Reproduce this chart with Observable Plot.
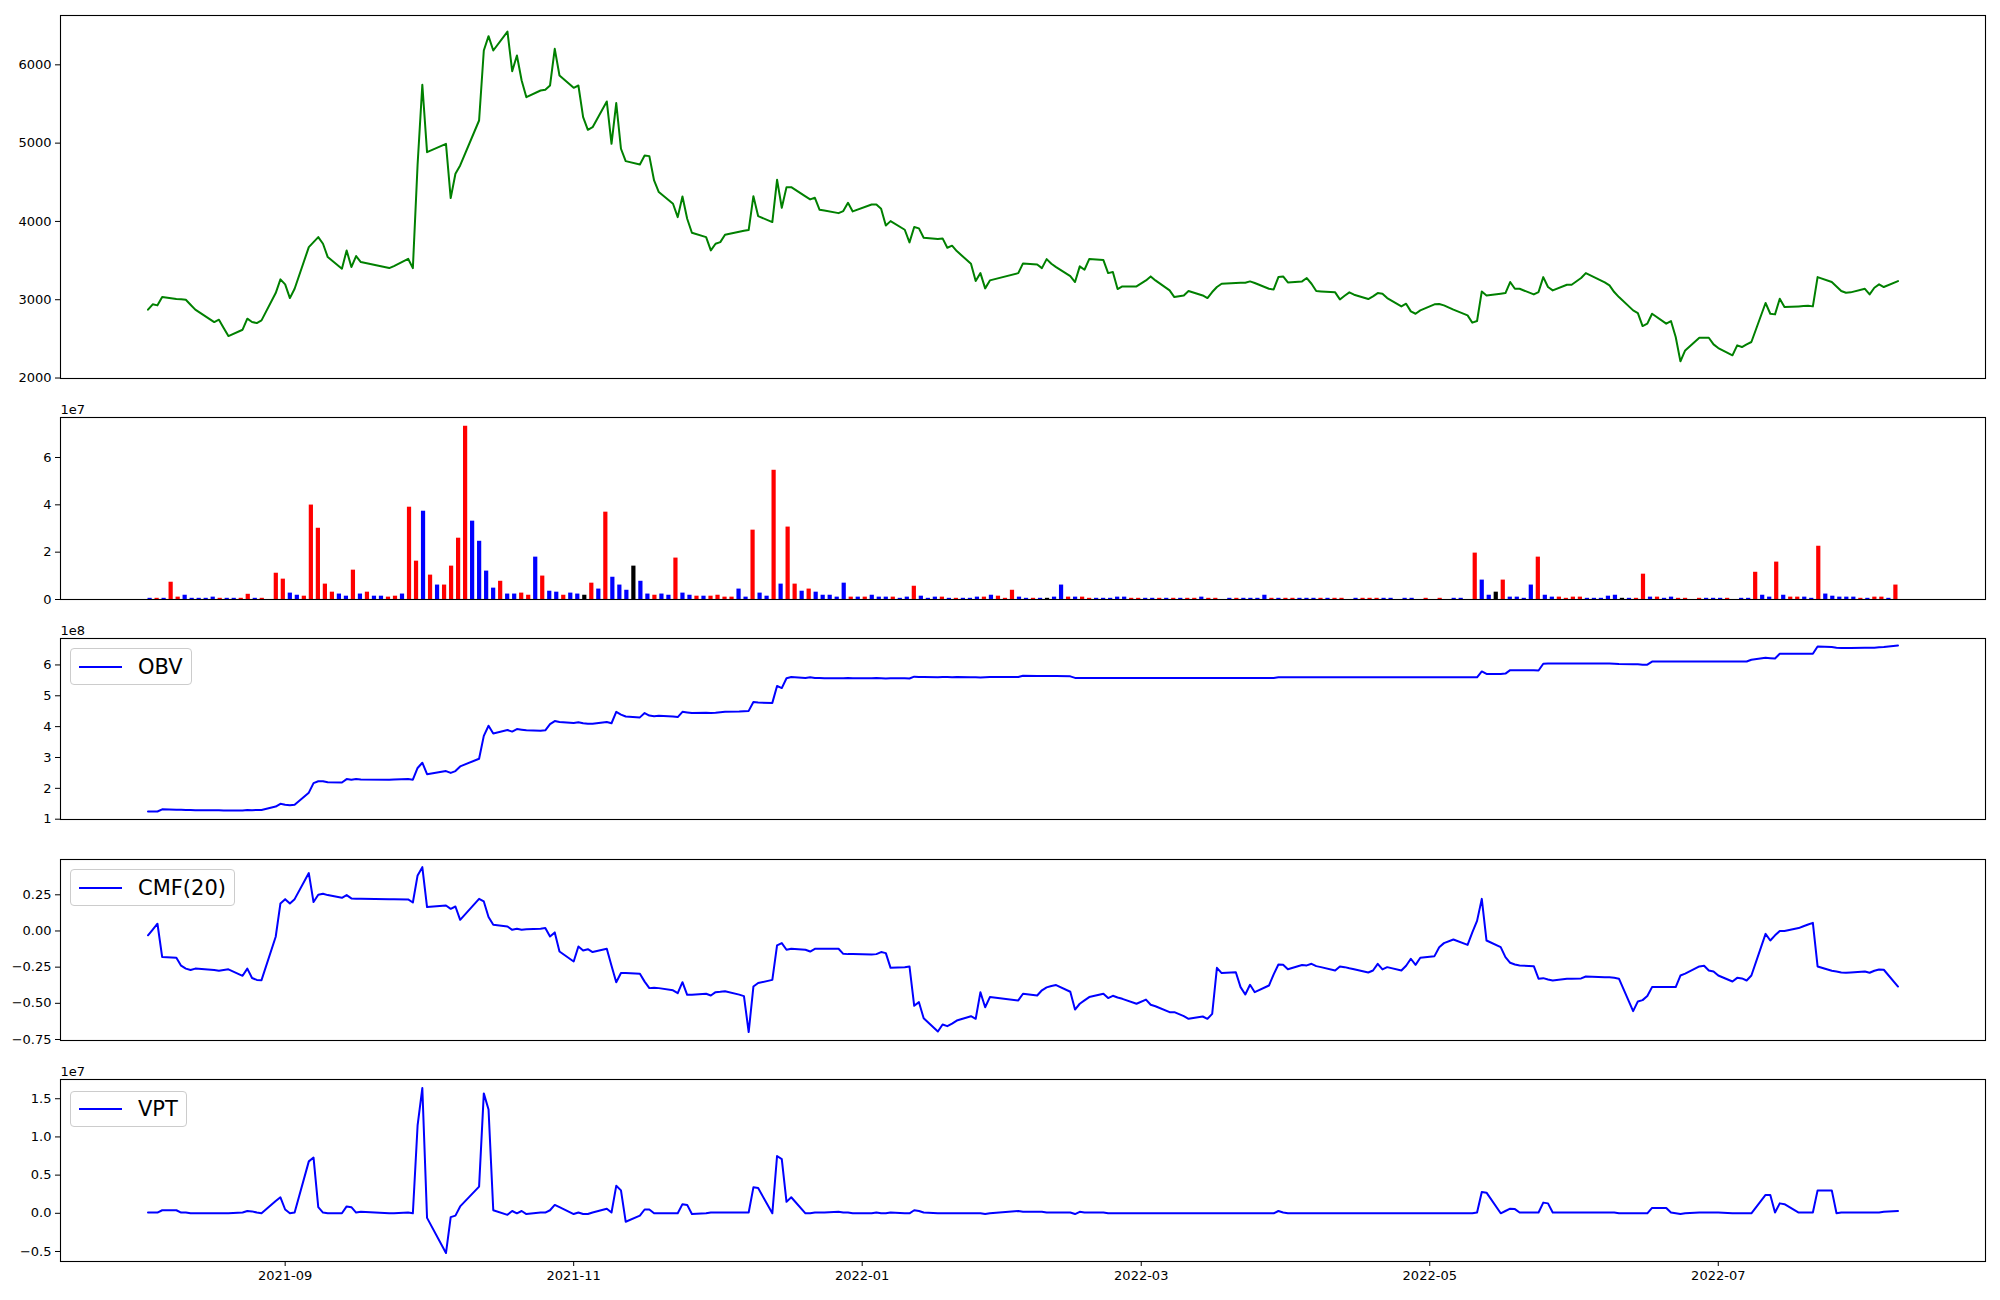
<!DOCTYPE html>
<html><head><meta charset="utf-8">
<script src="https://cdn.jsdelivr.net/npm/d3@7"></script>
<script src="https://cdn.jsdelivr.net/npm/@observablehq/plot@0.6"></script>
<style>
body{margin:0;background:#fff;}
#root{position:relative;width:2000px;height:1300px;background:#fff;font-family:"DejaVu Sans",sans-serif;overflow:hidden}
.legend{position:absolute;display:flex;align-items:center;box-sizing:border-box;border:1px solid #cccccc;border-radius:4px;background:rgba(255,255,255,0.8);padding:0 8px 0 8px;font-size:21px;color:#000;font-family:"DejaVu Sans",sans-serif;white-space:nowrap}
.legend .swatch{width:43px;height:2px;background:#0000ff;margin-right:16px}
</style></head>
<body><div id="root"></div>
<script>
// Trading days (Korean market calendar)
const tradingMonths = [
  ["2021-08",[3,4,5,6,9,10,11,12,13,17,18,19,20,23,24,25,26,27,30,31]],
  ["2021-09",[1,2,3,6,7,8,9,10,13,14,15,16,17,23,24,27,28,29,30]],
  ["2021-10",[1,5,6,7,8,12,13,14,15,18,19,20,21,22,25,26,27,28,29]],
  ["2021-11",[1,2,3,4,5,8,9,10,11,12,15,16,17,18,19,22,23,24,25,26,29,30]],
  ["2021-12",[1,2,3,6,7,8,9,10,13,14,15,16,17,20,21,22,23,24,27,28,29,30]],
  ["2022-01",[3,4,5,6,7,10,11,12,13,14,17,18,19,20,21,24,25,26,27,28]],
  ["2022-02",[3,4,7,8,9,10,11,14,15,16,17,18,21,22,23,24,25,28]],
  ["2022-03",[2,3,4,7,8,10,11,14,15,16,17,18,21,22,23,24,25,28,29,30,31]],
  ["2022-04",[1,4,5,6,7,8,11,12,13,14,15,18,19,20,21,22,25,26,27,28,29]],
  ["2022-05",[2,3,4,6,9,10,11,12,13,16,17,18,19,20,23,24,25,26,27,30,31]],
  ["2022-06",[2,3,7,8,9,10,13,14,15,16,17,20,21,22,23,24,27,28,29,30]],
  ["2022-07",[1,4,5,6,7,8,11,12,13,14,15,18,19,20,21,22,25,26,27,28,29]],
  ["2022-08",[1,2,3,4,5,8]]
];

// Close price
const price = [
  2873,2941,2928,3034,3010,3005,3000,2936,2873,2715,2745,2639,2536,2617,2758,2715,2702,2736,3085,3260,
  3196,3021,3140,3672,3736,3800,3715,3545,3396,3630,3417,3558,3481,3404,3430,3523,3404,4728,5745,
  4885,4991,4298,4609,4715,5289,6183,6366,6183,6425,5919,6119,5800,5587,5672,5681,5736,6204,5864,
  5706,5736,5332,5170,5204,5532,4991,5511,4928,4770,4728,4843,4834,4523,4375,4226,4055,4319,4034,3855,3800,3630,
  3715,3736,3830,3868,3881,3890,4323,4068,3992,4532,4175,4438,4438,4319,4281,4302,4149,4140,4106,4132,4238,4128,
  4217,4217,4162,3949,4004,3894,3732,3928,3911,3792,3775,3783,3664,3690,3621,3460,3238,3340,3145,3247,
  3340,3464,3451,3404,3519,3460,3417,3302,3226,3426,3383,3519,3506,3340,3353,3136,3170,3170,
  3247,3298,3247,3119,3034,3055,3111,3055,3021,3098,3162,3204,3213,3217,3217,3234,3213,3140,3132,3289,3298,
  3221,3234,3277,3204,3111,3106,3094,3004,3051,3094,3064,3009,3043,3085,3077,3021,2915,2949,2851,2821,2864,
  2941,2945,2928,2873,2800,2707,2728,3106,3055,3077,3085,3226,3140,3140,3068,3098,3289,3162,3119,3191,3191,
  3277,3340,3221,3183,3098,3034,2864,2830,2664,2694,2821,2694,2728,2524,2213,2353,2515,2515,2515,2430,
  2383,2290,2417,2396,2430,2460,2958,2821,2813,3013,2907,2915,2919,2924,2915,3289,3226,3170,3111,3089,3094,
  3140,3068,3153,3196,3162,3238
];

// Volume in millions of shares
const volumeM = [
  0.5,0.5,0.5,7.3,1.0,1.8,0.5,0.5,0.5,1.0,0.5,0.5,0.5,0.5,2.2,0.5,0.5,0,11.1,8.6,
  2.7,1.8,1.4,39.9,30.1,6.5,3.1,2.3,1.4,12.4,2.3,3.1,1.4,1.4,1.0,1.4,2.3,39.0,16.2,
  37.3,10.3,6.1,6.1,14.1,25.9,73.2,33.1,24.6,12.0,4.8,7.7,2.3,2.3,2.7,1.8,17.9,9.9,3.5,
  3.1,1.8,2.7,2.3,1.8,6.9,4.4,36.9,9.4,6.1,3.9,14.1,7.7,2.3,1.8,2.3,1.8,17.5,2.7,1.8,1.4,1.4,
  1.4,1.8,1.0,1.0,4.4,1.0,29.3,2.7,1.4,54.6,6.5,30.6,6.5,3.5,4.4,3.1,1.8,1.8,1.0,6.9,1.0,1.0,
  1.0,1.8,1.0,1.0,1.0,0.5,1.0,5.6,1.4,0.5,1.0,1.0,0.5,0.5,0.5,0.5,1.0,1.0,1.8,1.4,
  0.5,3.9,1.0,0.5,0.5,0.5,0.5,1.0,6.1,1.0,1.0,1.0,0.5,0.5,0.5,0.5,1.0,1.0,
  0.5,0.5,0.5,0.5,0.5,0.5,0.5,0.5,0.5,0.5,1.0,0.5,0.5,0,0.5,0.5,0.5,0.5,0.5,1.8,0.5,
  0.5,0.5,0.5,0.5,0.5,0.5,0.5,0.5,0.5,0.5,0,0.5,0.5,0.5,0.5,0.5,0.5,0,0.5,0.5,0,
  0.5,0,0.5,0,0.5,0.5,0,19.6,8.2,1.8,3.1,8.2,1.0,1.0,0.5,6.1,17.9,1.8,1.0,1.0,0.5,
  1.0,1.0,0.5,0.5,0.5,1.4,1.8,0.5,0.5,0.5,10.7,1.0,1.0,0.5,1.0,0.5,0.5,0,0.5,0.5,
  0.5,0.5,0.5,0,0.5,0.5,11.5,1.8,1.0,15.8,1.8,1.0,1.0,1.0,0.5,22.5,2.3,1.4,1.0,1.0,1.0,
  0.5,0.5,1.0,1.0,0.5,6.1
];

// Bar colour: r = up, b = down, k = unchanged
const volColor = [
  "b","r","b","r","r","b","b","b","b","b","r","b","b","r","r","b","r","k","r","r",
  "b","b","r","r","r","r","r","b","b","r","b","r","b","b","r","r","b","r","r",
  "b","r","b","r","r","r","r","b","b","b","b","r","b","b","r","r","b","r","b",
  "b","r","b","b","k","r","b","r","b","b","b","k","b","b","r","b","b","r","b","b","r","b",
  "r","r","r","r","b","b","r","b","b","r","b","r","r","b","r","b","b","b","b","b","r","b",
  "r","b","b","b","r","b","b","r","b","b","b","r","b","r","b","b","b","r","b","r",
  "r","r","b","b","r","b","k","b","b","r","b","r","r","b","b","b","b","b",
  "r","r","b","b","r","b","r","b","r","r","b","r","r","k","b","r","b","b","b","b","r",
  "b","r","r","b","b","b","r","b","r","r","k","b","r","r","r","b","b","k","b","b","k",
  "r","k","r","k","b","b","k","r","b","b","k","r","b","b","b","b","r","b","b","r","r",
  "r","r","b","b","b","b","b","k","b","r","r","b","r","b","b","r","r","k","r","b",
  "b","b","r","k","b","b","r","b","b","r","b","r","r","b","b","r","b","b","b","b","b",
  "r","b","r","r","b","r"
];

// On-balance volume, in units of 1e8
const obv = [
  1.25,1.25,1.25,1.32,1.31,1.31,1.30,1.30,1.29,1.29,1.29,1.28,1.28,1.28,1.30,1.29,1.30,1.30,1.41,1.50,
  1.47,1.45,1.47,1.86,2.17,2.23,2.23,2.20,2.19,2.30,2.28,2.30,2.29,2.28,2.29,2.30,2.28,2.66,2.83,
  2.46,2.56,2.50,2.56,2.71,2.96,3.70,4.03,3.78,3.89,3.84,3.92,3.90,3.88,3.87,3.88,4.08,4.18,4.15,
  4.12,4.14,4.11,4.09,4.09,4.15,4.11,4.48,4.39,4.33,4.30,4.44,4.36,4.34,4.35,4.33,4.31,4.48,4.46,4.44,4.45,4.44,
  4.45,4.47,4.48,4.49,4.50,4.51,4.80,4.78,4.77,5.32,5.25,5.57,5.61,5.58,5.60,5.58,5.58,5.57,5.57,5.57,5.58,5.57,
  5.57,5.58,5.57,5.56,5.57,5.57,5.56,5.62,5.61,5.61,5.60,5.61,5.61,5.60,5.61,5.60,5.60,5.59,5.60,5.61,
  5.61,5.65,5.64,5.64,5.64,5.64,5.64,5.63,5.58,5.58,5.58,5.58,5.58,5.58,5.58,5.58,5.58,5.58,
  5.58,5.58,5.58,5.58,5.58,5.58,5.58,5.58,5.58,5.58,5.58,5.58,5.58,5.58,5.58,5.58,5.58,5.58,5.58,5.60,5.60,
  5.60,5.60,5.60,5.60,5.60,5.60,5.60,5.60,5.60,5.60,5.60,5.60,5.60,5.60,5.60,5.60,5.60,5.60,5.60,5.60,5.60,
  5.60,5.60,5.60,5.60,5.60,5.60,5.60,5.79,5.71,5.71,5.72,5.83,5.83,5.83,5.83,5.82,6.04,6.05,6.05,6.05,6.05,
  6.05,6.05,6.05,6.05,6.04,6.03,6.02,6.02,6.01,6.01,6.11,6.11,6.11,6.11,6.11,6.11,6.11,6.11,6.11,6.11,
  6.11,6.11,6.11,6.11,6.11,6.17,6.23,6.22,6.21,6.36,6.36,6.36,6.36,6.36,6.36,6.60,6.58,6.56,6.55,6.55,6.55,
  6.56,6.56,6.56,6.57,6.58,6.63
];

// Chaikin money flow (20)
const cmf = [
  -0.03,0.01,0.05,-0.18,-0.185,-0.24,-0.26,-0.27,-0.26,-0.27,-0.275,-0.27,-0.265,-0.31,-0.26,-0.325,-0.338,-0.34,-0.04,0.19,
  0.22,0.19,0.22,0.40,0.20,0.25,0.257,0.248,0.229,0.248,0.225,0.223,0.222,0.22,0.219,0.218,0.197,0.384,0.441,
  0.165,0.176,0.153,0.169,0.077,0.222,0.204,0.096,0.043,0.031,0.008,0.015,0.008,0.012,0.016,0.02,-0.038,-0.01,-0.142,
  -0.211,-0.107,-0.135,-0.126,-0.146,-0.123,-0.24,-0.354,-0.291,-0.29,-0.296,-0.35,-0.395,-0.393,-0.395,-0.41,-0.43,-0.354,-0.441,-0.44,-0.434,-0.446,
  -0.423,-0.42,-0.416,-0.44,-0.45,-0.699,-0.384,-0.36,-0.338,-0.10,-0.084,-0.13,-0.123,-0.13,-0.142,-0.123,-0.123,-0.123,-0.123,-0.158,-0.16,-0.16,
  -0.162,-0.16,-0.146,-0.153,-0.255,-0.25,-0.245,-0.517,-0.492,-0.603,-0.695,-0.646,-0.658,-0.64,-0.619,-0.589,-0.607,-0.423,-0.527,-0.457,
  -0.48,-0.434,-0.446,-0.41,-0.39,-0.38,-0.374,-0.42,-0.543,-0.503,-0.48,-0.457,-0.434,-0.464,-0.448,-0.46,-0.469,-0.503,
  -0.474,-0.51,-0.52,-0.561,-0.561,-0.589,-0.607,-0.591,-0.607,-0.573,-0.255,-0.291,-0.285,-0.388,-0.439,-0.372,-0.423,-0.377,-0.30,-0.232,-0.234,
  -0.264,-0.235,-0.238,-0.227,-0.243,-0.25,-0.273,-0.245,-0.25,-0.258,-0.264,-0.287,-0.273,-0.227,-0.266,-0.25,-0.273,-0.24,-0.192,-0.234,-0.185,
  -0.174,-0.112,-0.084,-0.059,-0.096,-0.01,0.07,0.222,-0.066,-0.112,-0.181,-0.22,-0.232,-0.238,-0.243,-0.33,-0.326,-0.335,-0.342,-0.33,-0.33,
  -0.328,-0.315,-0.319,-0.32,-0.323,-0.33,-0.554,-0.487,-0.478,-0.45,-0.388,-0.388,-0.388,-0.388,-0.308,-0.295,-0.245,-0.24,-0.273,-0.28,
  -0.308,-0.349,-0.324,-0.328,-0.342,-0.308,-0.02,-0.066,-0.03,-0.001,0.0,0.02,0.033,0.045,0.056,-0.245,-0.275,-0.28,-0.287,-0.289,-0.287,
  -0.28,-0.289,-0.275,-0.266,-0.268,-0.384
];

// Volume price trend, in units of 1e7
const vpt = [
  0.01,0.01,0.01,0.04,0.04,0.01,0.01,0.0,0.0,0.0,0.0,0.0,0.0,0.01,0.03,0.025,0.01,0.0,0.16,0.21,
  0.05,0.0,0.01,0.68,0.73,0.08,0.01,0.0,0.0,0.09,0.08,0.01,0.02,0.0,0.0,0.01,0.0,1.15,1.64,
  -0.06,-0.52,-0.05,-0.03,0.09,0.35,1.57,1.36,0.04,-0.02,0.03,0.0,0.03,-0.01,0.01,0.01,0.04,0.11,0.08,
  -0.01,0.01,-0.01,-0.01,0.01,0.06,0.01,0.36,0.30,-0.11,-0.03,0.05,0.05,0.0,0.0,0.0,0.0,0.12,0.11,-0.01,0.0,0.01,
  0.01,0.01,0.01,0.01,0.01,0.01,0.34,0.33,0.0,0.75,0.71,0.15,0.21,0.0,0.0,0.01,0.01,0.01,0.02,0.01,0.01,0.0,
  0.0,0.01,0.0,0.0,0.01,0.0,0.0,0.04,0.03,0.01,0.0,0.0,0.0,0.0,0.0,0.0,0.0,0.0,-0.01,0.0,
  0.03,0.02,0.02,0.02,0.01,0.01,0.01,0.01,-0.01,0.02,0.01,0.01,0.01,0.0,0.0,0.0,0.0,0.0,
  0.0,0.0,0.0,0.0,0.0,0.0,0.0,0.0,0.0,0.0,0.0,0.0,0.0,0.0,0.0,0.0,0.0,0.0,0.0,0.03,0.01,
  0.0,0.0,0.0,0.0,0.0,0.0,0.0,0.0,0.0,0.0,0.0,0.0,0.0,0.0,0.0,0.0,0.0,0.0,0.0,0.0,0.0,
  0.0,0.0,0.0,0.0,0.0,0.0,0.01,0.28,0.27,0.0,0.03,0.06,0.055,0.01,0.01,0.01,0.14,0.13,0.01,0.01,0.01,
  0.01,0.01,0.01,0.01,0.01,0.0,0.0,0.0,0.0,0.0,0.07,0.07,0.01,0.0,-0.01,0.0,0.01,0.01,0.01,0.01,
  0.01,0.0,0.0,0.0,0.0,0.0,0.24,0.24,0.01,0.13,0.12,0.01,0.01,0.01,0.01,0.30,0.30,0.0,0.01,0.01,0.01,
  0.01,0.01,0.01,0.01,0.02,0.03
];

const priceTicks = [2000, 3000, 4000, 5000, 6000];
const volTicks = [0, 2e7, 4e7, 6e7];
const obvTicks = [1, 2, 3, 4, 5, 6];
const cmfTicks = [-0.75, -0.5, -0.25, 0, 0.25];
const vptTicks = [-0.5, 0, 0.5, 1.0, 1.5];
const dateTicks = ["2021-09-01","2021-11-01","2022-01-01","2022-03-01","2022-05-01","2022-07-01"];

// ---------- build ----------
const dates = tradingMonths.flatMap(([ym, days]) =>
  days.map(d => new Date(ym + "-" + String(d).padStart(2, "0") + "T00:00:00Z")));
const n = dates.length;
[price, volumeM, volColor, obv, cmf, vpt].forEach((a, k) => { if (a.length !== n) console.warn("length mismatch", k, a.length, n); });
const rows = dates.map((date, i) => ({
  date, i, price: price[i], vol: volumeM[i] * 1e6,
  fill: {r: "#ff0000", b: "#0000ff", k: "#000000"}[volColor[i]],
  obv: obv[i], cmf: cmf[i], vpt: vpt[i]
}));

const xDomain = [new Date(Date.UTC(2021, 6, 15, 12)), new Date(Date.UTC(2022, 7, 26, 12))];
const root = document.getElementById("root");
const baseStyle = {fontFamily: "'DejaVu Sans', sans-serif", fontSize: "13px", color: "black", background: "white", overflow: "visible"};

function addPanel({top, height, mt, mb, x, yDomain, yTicks, yFmt, marks, xAxis, offsetLabel}) {
  const allMarks = [...marks,
    Plot.axisY({ticks: yTicks, tickFormat: yFmt, tickSize: 5, tickPadding: 4, label: null}),
    Plot.frame({stroke: "black", strokeWidth: 1.1})
  ];
  if (xAxis) allMarks.push(xAxis);
  if (offsetLabel) allMarks.push(Plot.text([offsetLabel], {frameAnchor: "top-left", text: d => d, textAnchor: "start", lineAnchor: "bottom", dy: -4}));
  const svg = Plot.plot({
    width: 2000, height,
    marginLeft: 60, marginRight: 15, marginTop: mt, marginBottom: mb,
    style: baseStyle,
    x: xAxis ? x : {...x, axis: null},
    y: {domain: yDomain},
    color: {type: "identity"},
    marks: allMarks
  });
  svg.style.position = "absolute";
  svg.style.left = "0px";
  svg.style.top = top + "px";
  root.appendChild(svg);
}

const timeX = {type: "utc", domain: xDomain};

// Panel 1: price
addPanel({top: 0, height: 400, mt: 15, mb: 22, x: timeX,
  yDomain: [1994, 6630], yTicks: priceTicks, yFmt: d => String(d),
  marks: [Plot.lineY(rows, {x: "date", y: "price", stroke: "#008000", strokeWidth: 2, strokeLinejoin: "round"})]});

// Panel 2: volume bars (evenly spaced by trading-day index)
addPanel({top: 400, height: 210, mt: 17, mb: 11,
  x: {type: "linear", domain: [-0.3 - 0.05 * (n - 0.4), n - 1 + 0.3 + 0.05 * (n - 0.4)]},
  yDomain: [0, 7.69e7], yTicks: volTicks, yFmt: d => String(d / 1e7),
  offsetLabel: "1e7",
  marks: [Plot.rect(rows, {x1: d => d.i - 0.3, x2: d => d.i + 0.3, y1: 0, y2: "vol", fill: "fill"})]});

// Panel 3: OBV
addPanel({top: 615, height: 215, mt: 23, mb: 11, x: timeX,
  yDomain: [0.99, 6.857], yTicks: obvTicks, yFmt: d => String(d),
  offsetLabel: "1e8",
  marks: [Plot.lineY(rows, {x: "date", y: "obv", stroke: "#0000ff", strokeWidth: 2, strokeLinejoin: "round"})]});

// Panel 4: CMF
addPanel({top: 835, height: 215, mt: 24, mb: 10, x: timeX,
  yDomain: [-0.757, 0.494], yTicks: cmfTicks, yFmt: d3.format(".2f"),
  marks: [Plot.lineY(rows, {x: "date", y: "cmf", stroke: "#0000ff", strokeWidth: 2, strokeLinejoin: "round"})]});

// Panel 5: VPT with date axis
addPanel({top: 1055, height: 245, mt: 24, mb: 39, x: timeX,
  yDomain: [-0.631, 1.752], yTicks: vptTicks, yFmt: d3.format(".1f"),
  offsetLabel: "1e7",
  xAxis: Plot.axisX({ticks: dateTicks.map(s => new Date(s + "T00:00:00Z")), tickFormat: d3.utcFormat("%Y-%m"), tickSize: 5, tickPadding: 4, label: null}),
  marks: [Plot.lineY(rows, {x: "date", y: "vpt", stroke: "#0000ff", strokeWidth: 2, strokeLinejoin: "round"})]});

// Legends
function addLegend(label, left, top, h) {
  const div = document.createElement("div");
  div.className = "legend";
  div.style.left = left + "px";
  div.style.top = top + "px";
  div.style.height = h + "px";
  const sw = document.createElement("span");
  sw.className = "swatch";
  const tx = document.createElement("span");
  tx.textContent = label;
  div.appendChild(sw);
  div.appendChild(tx);
  root.appendChild(div);
}
addLegend("OBV", 70, 648, 37);
addLegend("CMF(20)", 70, 869, 37);
addLegend("VPT", 70, 1091, 36);
</script>
</body></html>
